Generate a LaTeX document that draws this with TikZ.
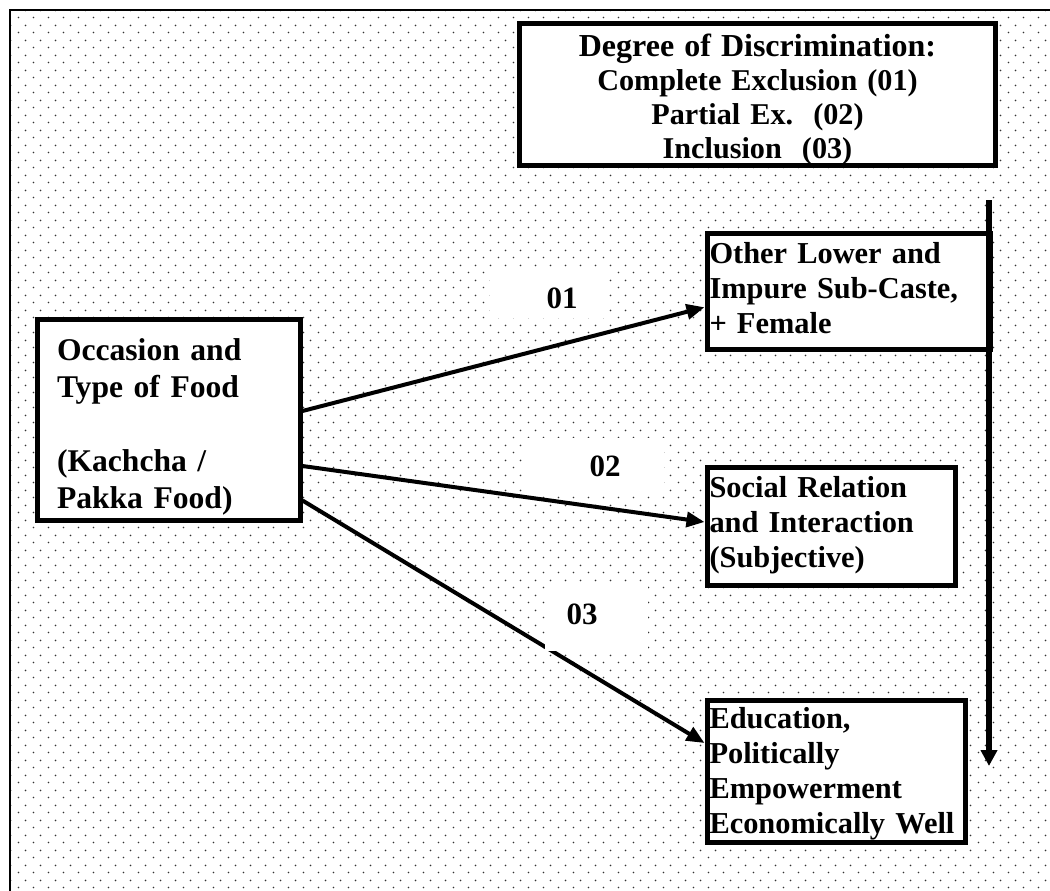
\documentclass[tikz,border=0pt]{standalone}
\usepackage{fontspec}
\setmainfont{Liberation Serif}
\usetikzlibrary{arrows.meta,patterns}

% staggered dot grid used as the background texture
\pgfdeclarepatternformonly{gridDots}{\pgfqpoint{0pt}{0pt}}{\pgfqpoint{15pt}{15pt}}{\pgfqpoint{15pt}{15pt}}{%
  \pgfpathcircle{\pgfqpoint{3.75pt}{3.75pt}}{1pt}%
  \pgfpathcircle{\pgfqpoint{11.25pt}{11.25pt}}{1pt}%
  \pgfusepath{fill}}

\begin{document}
\begin{tikzpicture}[x=1pt,y=-1pt,
  boxed/.style={draw=black, line width=5pt, fill=white, inner xsep=2.5pt,
    inner ysep=0pt, align=left, font=\fontsize{30.4}{35}\selectfont\bfseries},
  labbox/.style={fill=white, inner sep=0pt},
  labtxt/.style={inner sep=0pt, font=\fontsize{31}{35}\selectfont\bfseries},
  arr/.style={line width=4pt, -{Triangle[length=18pt,width=15pt]}},
  scale arrow/.style={line width=6pt, -{Triangle[length=16pt,width=16pt]}}]
\useasboundingbox (0,0) rectangle (1050,891);
\clip (0,0) rectangle (1050,891);

% background and frame
\fill[pattern=gridDots, pattern color=black!80] (10,10) rectangle (1060,900);
\draw[line width=2.5pt] (1060,10) -- (10,10) -- (10,900);

% legend box
\node[boxed, align=center, text width=471pt, text height=33.5pt, text depth=108.5pt,
  font=\fontsize{30.2}{34}\selectfont\bfseries] (deg) at (757.5,94.5)
  {{\fontsize{32}{35}\selectfont Degree of Discrimination:}\\Complete Exclusion (01)\\Partial Ex.\ \ (02)\\Inclusion\ \ (03)};

% source box
\node[boxed, text width=223pt, inner xsep=20pt, text height=41pt, text depth=160pt,
  font=\fontsize{31.6}{37}\selectfont\bfseries] (occ) at (168.5,419.5)
  {Occasion and\\Type of Food\\\mbox{}\\(Kachcha /\\Pakka Food)};

% target boxes
\node[boxed, text width=278pt, text height=29.5pt, text depth=86pt] (olc) at (848.5,291.25)
  {Other Lower and\\Impure~Sub-Caste,\\+ Female};
\node[boxed, text width=243pt, text height=30pt, text depth=88pt] (srl) at (831,526)
  {Social Relation\\and Interaction\\(Subjective)};
\node[boxed, text width=253pt, text height=28pt, text depth=114pt] (edu) at (836,771)
  {Education,\\Politically\\Empowerment\\Economically~Well};

% connectors
\draw[arr] ([yshift=8.5pt]occ.east) -- ([yshift=-16pt]olc.west);
\draw[arr] ([yshift=-46.5pt]occ.east) -- ([yshift=4pt]srl.west);
\draw[arr] ([yshift=-81pt]occ.east) -- ([yshift=28pt]edu.west);

% degree scale arrow
\coordinate (vtop) at (989,200);
\coordinate (vbot) at (989,766);
\draw[scale arrow] (vtop) -- (vbot);

% connector labels
\node[labbox, minimum width=115pt, minimum height=51pt] (l1) at (547.5,292.5) {};
\node[labtxt] at ([xshift=14.5pt,yshift=-5.5pt]l1.center) {01};
\node[labbox, minimum width=137pt, minimum height=56pt] (l2) at (595.5,466) {};
\node[labtxt] at ([xshift=9.5pt]l2.center) {02};
\node[labbox, minimum width=103pt, minimum height=66pt] (l3) at (596.5,618) {};
\node[labtxt] at ([xshift=-14.5pt,yshift=4pt]l3.center) {03};
\end{tikzpicture}
\end{document}
